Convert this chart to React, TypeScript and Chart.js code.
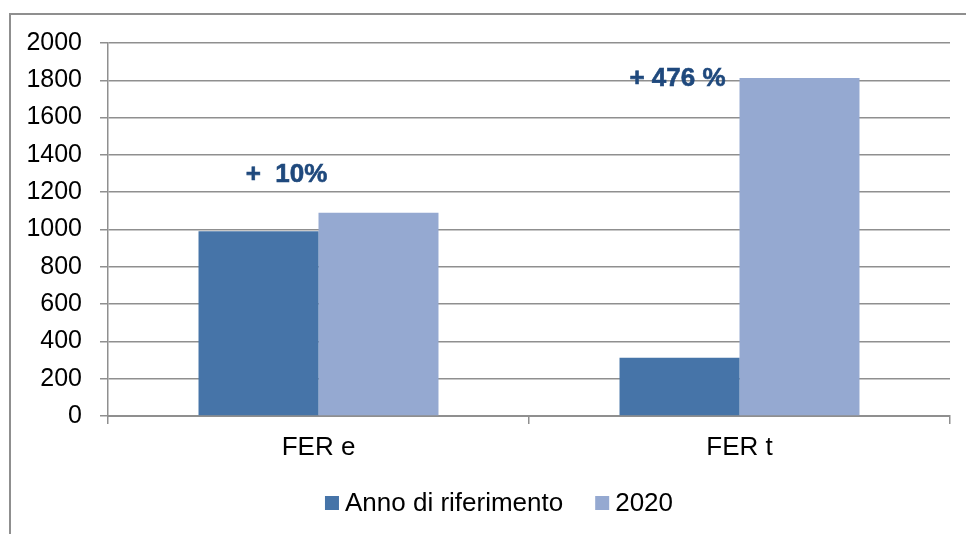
import React, { useEffect, useRef } from "react";
import { Chart, registerables } from "chart.js";

Chart.register(...registerables);

const categories = ["FER e", "FER t"];
const seriesNames = ["Anno di riferimento", "2020"];
const referenceValues = [990, 312];
const values2020 = [1090, 1812];
const yTicks = [0, 200, 400, 600, 800, 1000, 1200, 1400, 1600, 1800, 2000];
const annotationLabels = ["+  10%", "+ 476 %"];
const annotationValues = [1292, 1807];

const FONT = "'Liberation Sans', Arial, sans-serif";
const DARK = "#4674A8";
const LIGHT = "#95A9D1";
const GRID = "#8F8F8F";

const decorPlugin = {
  id: "decor",
  beforeDraw(chart: any) {
    const ctx = chart.ctx;
    ctx.save();
    ctx.strokeStyle = GRID;
    ctx.lineWidth = 2;
    ctx.strokeRect(10, 14, 1000, 1000);
    ctx.restore();
  },
  afterDraw(chart: any) {
    const ctx = chart.ctx;
    const xs = chart.scales.x;
    const ys = chart.scales.y;
    const offsets = [-32, -62];
    ctx.save();
    ctx.font = `bold 26px ${FONT}`;
    ctx.fillStyle = "#1F497D";
    ctx.strokeStyle = "#1F497D";
    ctx.lineWidth = 0.6;
    ctx.textAlign = "center";
    ctx.textBaseline = "middle";
    annotationLabels.forEach((t, i) => {
      const x = xs.getPixelForValue(i) + offsets[i];
      const y = ys.getPixelForValue(annotationValues[i]);
      ctx.fillText(t, x, y);
      ctx.strokeText(t, x, y);
    });
    // legend
    ctx.font = `26px ${FONT}`;
    ctx.textAlign = "left";
    ctx.fillStyle = "#000";
    const box = 14;
    const gap = 6;
    const itemGap = 32;
    const ds = chart.data.datasets;
    const widths = ds.map((d: any) => box + gap + ctx.measureText(d.label).width);
    const total = widths.reduce((a: number, b: number) => a + b, 0) + itemGap * (ds.length - 1);
    let x = 499 - total / 2;
    const cy = 503;
    ds.forEach((d: any, i: number) => {
      ctx.fillStyle = d.backgroundColor;
      ctx.fillRect(x, cy - box / 2, box, box);
      ctx.fillStyle = "#000";
      ctx.fillText(d.label, x + box + gap, cy + 1);
      x += widths[i] + itemGap;
    });
    ctx.restore();
  },
};

export default function App() {
  const ref = useRef<HTMLCanvasElement>(null);
  useEffect(() => {
    if (!ref.current) return;
    const chart = new Chart(ref.current, {
      type: "bar",
      data: {
        labels: categories,
        datasets: [
          { label: seriesNames[0], data: referenceValues, backgroundColor: DARK },
          { label: seriesNames[1], data: values2020, backgroundColor: LIGHT },
        ],
      },
      options: {
        responsive: false,
        animation: false,
        devicePixelRatio: 1,
        layout: { padding: { left: 0, top: 43, right: 16, bottom: 58 } },
        plugins: { legend: { display: false }, tooltip: { enabled: false } },
        datasets: { bar: { categoryPercentage: 0.57, barPercentage: 1 } },
        scales: {
          x: {
            offset: true,
            grid: {
              offset: true,
              drawOnChartArea: false,
              drawTicks: true,
              tickLength: 8,
              color: GRID,
              lineWidth: 1.5,
            },
            border: { color: GRID, width: 2 },
            ticks: { color: "#000", font: { family: FONT, size: 26 }, padding: 8 },
            afterFit(s: any) {
              s.height = 60;
            },
          },
          y: {
            min: 0,
            max: 2000,
            afterBuildTicks(s: any) {
              s.ticks = yTicks.map((v) => ({ value: v }));
            },
            grid: { color: GRID, lineWidth: 1.5, tickLength: 8 },
            border: { color: GRID, width: 1.5 },
            ticks: {
              color: "#000",
              font: { family: FONT, size: 25 },
              padding: 18,
              callback: (v: any) => String(v),
            },
            afterFit(s: any) {
              s.width = 108;
            },
          },
        },
      },
      plugins: [decorPlugin],
    });
    return () => chart.destroy();
  }, []);
  return (
    <div style={{ position: "fixed", left: 0, top: 0, width: 966, height: 534, background: "#fff" }}>
      <canvas ref={ref} width={966} height={534} style={{ display: "block" }} />
    </div>
  );
}
